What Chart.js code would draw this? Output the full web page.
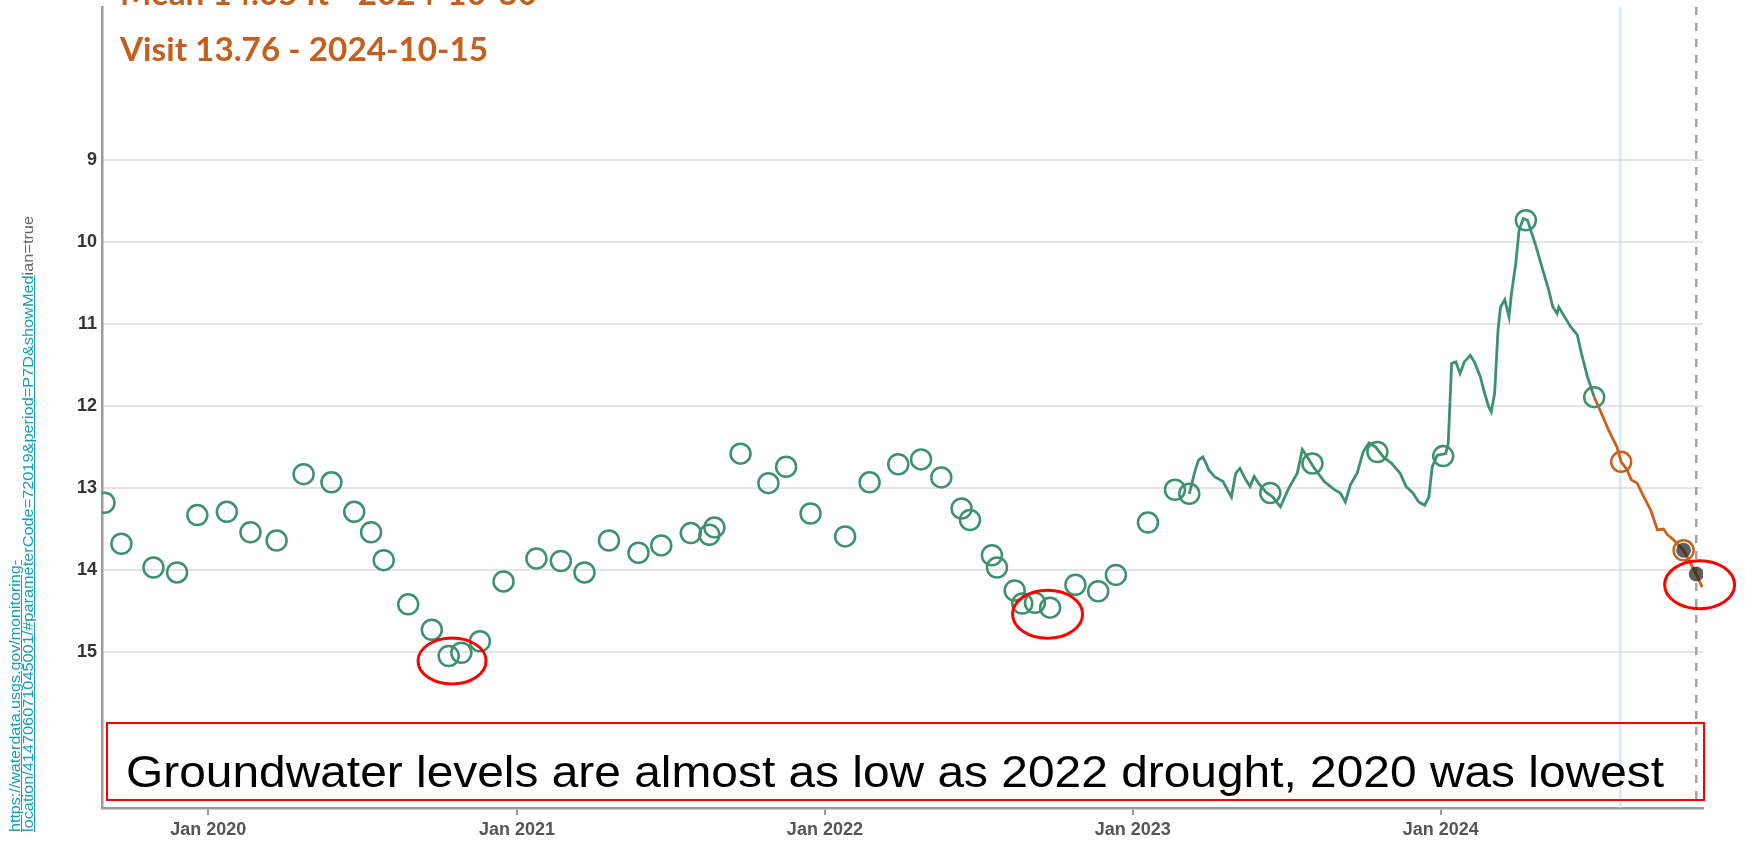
<!DOCTYPE html>
<html>
<head>
<meta charset="utf-8">
<script src="https://cdn.jsdelivr.net/npm/chart.js@4"></script>
<style>
html,body{margin:0;padding:0;background:#fff;overflow:hidden;}
#wrap{position:relative;width:1745px;height:843px;overflow:hidden;}
#c{position:absolute;left:0;top:0;}
.t{position:absolute;white-space:nowrap;}
.title{font-family:Lato,"Open Sans",sans-serif;font-weight:700;font-size:32px;line-height:32px;color:#c55f1d;transform-origin:0 0;left:120px;}
#box{position:absolute;left:106px;top:722px;width:1599px;height:79px;border:2px solid #f00;box-sizing:border-box;}
#note{font-family:"Liberation Sans",Arial,sans-serif;font-size:44px;line-height:44px;color:#000;left:126px;top:750px;transform-origin:0 0;}
.url{font-family:"Liberation Sans",Arial,sans-serif;font-size:14px;line-height:13px;transform-origin:0 0;top:832px;}
.lnk{color:#17a0b5;text-decoration:underline;}
.gry{color:#666;}
</style>
</head>
<body>
<div id="wrap">
<canvas id="c" width="1745" height="843"></canvas>
<div class="t title" id="mean" style="top:-23px">Mean 14.05 ft - 2024-10-30</div>
<div class="t title" id="visit" style="top:33px">Visit 13.76 - 2024-10-15</div>
<div id="box"></div>
<div class="t" id="note">Groundwater levels are almost as low as 2022 drought, 2020 was lowest</div>
<div class="t url" id="u1" style="left:9px"><span class="lnk">https://waterdata.usgs.gov/monitoring-</span></div>
<div class="t url" id="u2" style="left:22px"><span class="lnk">location/414706071045001/#parameterCode=72019&amp;period=P7D&amp;showMed</span><span class="gry">ian=true</span></div>
</div>
<script>
// ---- data (depth to water, ft below land surface) ----
const visitDates = ['2019-08-31','2019-09-20','2019-10-28','2019-11-25','2019-12-19',
 '2020-01-23','2020-02-20','2020-03-22','2020-04-23','2020-05-26','2020-06-22','2020-07-12','2020-07-27','2020-08-25','2020-09-22','2020-10-12','2020-10-27','2020-11-18','2020-12-16',
 '2021-01-24','2021-02-22','2021-03-22','2021-04-20','2021-05-25','2021-06-21','2021-07-26','2021-08-17','2021-08-23','2021-09-23','2021-10-26','2021-11-16','2021-12-15',
 '2022-01-25','2022-02-23','2022-03-29','2022-04-25','2022-05-19','2022-06-12','2022-06-22','2022-07-18','2022-07-24','2022-08-14','2022-08-23','2022-09-07','2022-09-25','2022-10-25','2022-11-21','2022-12-12',
 '2023-01-19','2023-02-20','2023-03-09','2023-06-13','2023-08-02','2023-10-18','2024-01-04','2024-04-11','2024-07-01'];
const visitDepths = [13.18,13.68,13.97,14.03,13.33,
 13.29,13.54,13.64,12.83,12.93,13.29,13.54,13.88,14.42,14.73,15.05,15.01,14.87,14.14,
 13.86,13.89,14.03,13.64,13.79,13.70,13.55,13.57,13.48,12.58,12.94,12.74,13.31,
 13.59,12.93,12.71,12.65,12.87,13.25,13.39,13.82,13.97,14.25,14.41,14.40,14.46,14.18,14.26,14.06,
 13.42,13.02,13.07,13.06,12.70,12.56,12.61,9.73,11.89];

const approvedDates = ['2023-03-09','2023-03-16','2023-03-20','2023-03-25','2023-03-29','2023-04-01','2023-04-08','2023-04-18','2023-04-28','2023-05-03','2023-05-08','2023-05-15','2023-05-20','2023-05-25','2023-05-30','2023-06-08','2023-06-16','2023-06-25','2023-07-05','2023-07-15','2023-07-21','2023-07-27','2023-08-03','2023-08-16','2023-08-28','2023-09-04','2023-09-10','2023-09-16','2023-09-24','2023-10-01','2023-10-08','2023-10-16','2023-10-25','2023-11-04','2023-11-14','2023-11-21','2023-11-29','2023-12-06','2023-12-13','2023-12-18','2023-12-22','2023-12-28','2024-01-07','2024-01-10','2024-01-14','2024-01-19','2024-01-24','2024-01-29','2024-02-05','2024-02-10','2024-02-17','2024-02-22','2024-02-27','2024-03-01','2024-03-05','2024-03-09','2024-03-12','2024-03-17','2024-03-22','2024-03-25','2024-03-30','2024-04-03','2024-04-08','2024-04-13','2024-04-18','2024-04-23','2024-04-30','2024-05-08','2024-05-13','2024-05-18','2024-05-20','2024-05-27','2024-06-03','2024-06-11','2024-06-16','2024-06-23','2024-07-01'];
const approvedDepths = [13.07,12.78,12.66,12.62,12.70,12.78,12.86,12.92,13.11,12.82,12.76,12.90,12.98,12.86,12.94,13.05,13.11,13.23,13.00,12.82,12.53,12.62,12.74,12.92,13.02,13.06,13.17,12.96,12.82,12.56,12.45,12.50,12.62,12.70,12.82,12.98,13.06,13.17,13.21,13.11,12.74,12.60,12.58,12.45,11.48,11.46,11.60,11.46,11.38,11.46,11.64,11.84,12.01,12.07,11.84,11.07,10.79,10.70,10.91,10.62,10.26,9.85,9.71,9.73,9.89,10.05,10.30,10.58,10.79,10.87,10.79,10.91,11.03,11.13,11.36,11.64,11.89];

const provisionalDates = ['2024-07-01','2024-07-08','2024-07-18','2024-07-28','2024-08-02','2024-08-09','2024-08-14','2024-08-21','2024-08-28','2024-09-06','2024-09-14','2024-09-21','2024-09-26','2024-10-03','2024-10-15','2024-10-30','2024-11-06'];
const provisionalDepths = [11.89,12.05,12.29,12.50,12.68,12.78,12.90,12.94,13.09,13.27,13.51,13.50,13.57,13.63,13.76,14.05,14.21];

const provisionalVisitDates = ['2024-08-02','2024-10-15'];
const provisionalVisitDepths = [12.68,13.76];

const cursorDates = ['2024-10-15','2024-10-30'];
const cursorDepths = [13.76,14.05];

const xTickDates = ['2020-01-01','2021-01-01','2022-01-01','2023-01-01','2024-01-01'];
const xTickLabels = ['Jan 2020','Jan 2021','Jan 2022','Jan 2023','Jan 2024'];
const yTickValues = [9,10,11,12,13,14,15];
const xRange = ['2019-08-28','2024-11-07'];
const yRange = [7.127,16.906];
const provisionalStartDate = '2024-08-01';
const cursorLineDate = '2024-10-30';
const highlightDates = ['2020-10-16','2022-09-22','2024-11-03'];
const highlightDepths = [15.11,14.54,14.18];

// ---- helpers ----
const toMs = d => Date.parse(d + 'T00:00:00Z');
const pts = (ds, vs) => ds.map((d, i) => ({x: toMs(d), y: vs[i]}));
const GREEN = '#3d916e';
const ORANGE = '#c8621e';
const FONT = '"Liberation Sans", Arial, sans-serif';

const overlay = {
  id: 'overlay',
  beforeDatasetsDraw(chart) {
    const {ctx, chartArea: a, scales: {x}} = chart;
    ctx.save();
    const bx = x.getPixelForValue(toMs(provisionalStartDate));
    ctx.strokeStyle = 'rgba(185,222,245,0.75)';
    ctx.lineWidth = 2;
    ctx.beginPath(); ctx.moveTo(bx, a.top); ctx.lineTo(bx, a.bottom); ctx.stroke();
    const cx = x.getPixelForValue(toMs(cursorLineDate));
    ctx.strokeStyle = '#a3a3a3';
    ctx.lineWidth = 2.5;
    ctx.setLineDash([8, 8]);
    ctx.beginPath(); ctx.moveTo(cx, a.top); ctx.lineTo(cx, a.bottom); ctx.stroke();
    ctx.restore();
  },
  afterDraw(chart) {
    const {ctx, scales: {x, y}} = chart;
    ctx.save();
    ctx.strokeStyle = '#f00';
    ctx.lineWidth = 3;
    const radii = [[34, 23], [35, 24], [35, 24]];
    highlightDates.forEach((d, i) => {
      const px = x.getPixelForValue(toMs(d));
      const py = y.getPixelForValue(highlightDepths[i]);
      ctx.beginPath();
      ctx.ellipse(px, py, radii[i][0], radii[i][1], 0, 0, Math.PI * 2);
      ctx.stroke();
    });
    ctx.restore();
  }
};

new Chart(document.getElementById('c').getContext('2d'), {
  type: 'scatter',
  data: {
    datasets: [
      {label: 'Cursor', data: pts(cursorDates, cursorDepths), showLine: false, order: 0,
       pointRadius: 7.5, pointBorderWidth: 0, pointBackgroundColor: 'rgba(35,35,35,0.72)', pointBorderColor: 'rgba(0,0,0,0)'},
      {label: 'Provisional visits', data: pts(provisionalVisitDates, provisionalVisitDepths), showLine: false, order: 1,
       pointRadius: 10, pointBorderWidth: 2.5, pointBorderColor: ORANGE, pointBackgroundColor: 'rgba(0,0,0,0)'},
      {label: 'Visits', data: pts(visitDates, visitDepths), showLine: false, order: 2,
       pointRadius: 10, pointBorderWidth: 2.5, pointBorderColor: GREEN, pointBackgroundColor: 'rgba(0,0,0,0)'},
      {label: 'Provisional', data: pts(provisionalDates, provisionalDepths), showLine: true, order: 3,
       borderColor: ORANGE, borderWidth: 2.8, pointRadius: 0, tension: 0},
      {label: 'Approved', data: pts(approvedDates, approvedDepths), showLine: true, order: 4,
       borderColor: GREEN, borderWidth: 2.8, pointRadius: 0, tension: 0}
    ]
  },
  options: {
    responsive: false,
    animation: false,
    devicePixelRatio: 1,
    layout: {autoPadding: false, padding: {top: 7, right: 42, left: 0, bottom: 0}},
    plugins: {legend: {display: false}, tooltip: {enabled: false}},
    scales: {
      x: {
        type: 'linear', min: toMs(xRange[0]), max: toMs(xRange[1]),
        afterBuildTicks: s => { s.ticks = xTickDates.map(d => ({value: toMs(d)})); },
        afterFit: s => { s.height = 35; s.paddingLeft = 0; s.paddingRight = 0; },
        ticks: {autoSkip: false, maxRotation: 0, padding: 4, color: '#555',
                font: {family: FONT, size: 18, weight: 'bold'},
                callback: (v, i) => xTickLabels[i]},
        grid: {display: true, drawOnChartArea: false, drawTicks: true, tickLength: 7, color: '#999', lineWidth: 2},
        border: {display: true, color: '#9b9b9b', width: 2.5}
      },
      y: {
        type: 'linear', reverse: true, min: yRange[0], max: yRange[1],
        afterBuildTicks: s => { s.ticks = yTickValues.map(v => ({value: v})); },
        afterFit: s => { s.width = 102; s.paddingTop = 0; s.paddingBottom = 0; },
        ticks: {padding: 5, color: '#333', font: {family: FONT, size: 18, weight: 'bold'},
                callback: v => String(v)},
        grid: {color: '#e5e5e5', lineWidth: 2, drawTicks: false},
        border: {display: true, color: '#9b9b9b', width: 2.5}
      }
    }
  },
  plugins: [overlay]
});

// ---- fit overlay texts to the reference widths ----
function fit() {
  const visit = document.getElementById('visit');
  const mean = document.getElementById('mean');
  visit.style.transform = 'none'; mean.style.transform = 'none';
  const s = 368 / visit.getBoundingClientRect().width;
  visit.style.transform = 'scaleX(' + s + ')';
  mean.style.transform = 'scaleX(' + s + ')';
  const note = document.getElementById('note');
  note.style.transform = 'none';
  note.style.transform = 'scaleX(' + (1538 / note.getBoundingClientRect().width) + ')';
  [['u1', 272], ['u2', 616]].forEach(([id, len]) => {
    const el = document.getElementById(id);
    el.style.transform = 'none';
    const k = len / el.getBoundingClientRect().width;
    el.style.transform = 'rotate(-90deg) scaleX(' + k + ')';
  });
}
fit();
if (document.fonts && document.fonts.ready) document.fonts.ready.then(fit);
</script>
</body>
</html>
